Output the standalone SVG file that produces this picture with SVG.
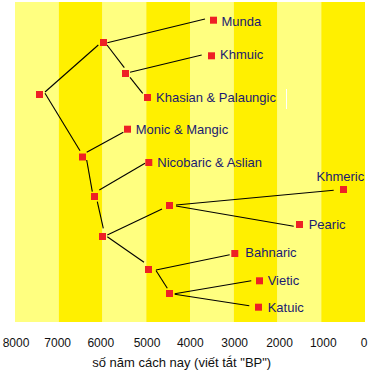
<svg xmlns="http://www.w3.org/2000/svg" width="372" height="374" viewBox="0 0 372 374">
<style>
.lt{fill:#FFFF80}
.dk{fill:#FFF000}
.nd{fill:#EE2025}
.lb{font-family:"Liberation Sans",Arial,sans-serif;font-size:13px;fill:#1a1a70}
.ax{font-family:"Liberation Sans",Arial,sans-serif;font-size:12px;fill:#111;text-anchor:middle}
.ttl{font-family:"Liberation Sans",Arial,sans-serif;font-size:13px;fill:#111;text-anchor:middle}
#connectors line{stroke:#000;stroke-width:1.1}
</style>
<rect width="372" height="374" fill="#fff"/>
<g id="background">
<rect class="lt" x="15" y="2" width="43.75" height="320"/>
<rect class="dk" x="58.75" y="2" width="43.75" height="320"/>
<rect class="lt" x="102.5" y="2" width="43.75" height="320"/>
<rect class="dk" x="146.25" y="2" width="43.75" height="320"/>
<rect class="lt" x="190" y="2" width="43.75" height="320"/>
<rect class="dk" x="233.75" y="2" width="43.75" height="320"/>
<rect class="lt" x="277.5" y="2" width="43.75" height="320"/>
<rect class="dk" x="321.25" y="2" width="43.75" height="320"/>
<line x1="286.5" y1="89" x2="286.5" y2="109" stroke="#fff" stroke-width="1"/>
</g>
<g id="connectors">
<line x1="45" y1="92" x2="98.3" y2="45"/>
<line x1="45" y1="93.3" x2="80" y2="150.7"/>
<line x1="107.3" y1="42.7" x2="205" y2="19"/>
<line x1="107" y1="45" x2="124.3" y2="67.7"/>
<line x1="130" y1="72.3" x2="201.7" y2="55"/>
<line x1="130" y1="77.3" x2="142.7" y2="93.3"/>
<line x1="86.7" y1="152.3" x2="123.3" y2="132.3"/>
<line x1="86.7" y1="160" x2="92.3" y2="191.7"/>
<line x1="99.3" y1="190" x2="145" y2="163.3"/>
<line x1="97.3" y1="201.7" x2="103.3" y2="228.3"/>
<line x1="107.3" y1="235" x2="162" y2="209"/>
<line x1="107.3" y1="236.7" x2="144" y2="262.3"/>
<line x1="176" y1="205" x2="333.7" y2="190.3"/>
<line x1="176" y1="206" x2="293.7" y2="226.3"/>
<line x1="156" y1="270" x2="229.7" y2="254.7"/>
<line x1="156" y1="270.5" x2="167.3" y2="288.3"/>
<line x1="174.7" y1="293.7" x2="251.3" y2="280.7"/>
<line x1="174.7" y1="294.3" x2="249.3" y2="305.7"/>
</g>
<g id="root"><rect class="nd" x="36" y="91" width="7" height="7"/></g>
<g id="n-a"><rect class="nd" x="100" y="39" width="7" height="7"/></g>
<g id="n-b"><rect class="nd" x="122" y="70" width="7" height="7"/></g>
<g id="n-c"><rect class="nd" x="79" y="153.5" width="7" height="7"/></g>
<g id="n-d"><rect class="nd" x="91" y="193" width="7" height="7"/></g>
<g id="n-e"><rect class="nd" x="99" y="233" width="7" height="7"/></g>
<g id="n-f"><rect class="nd" x="166" y="202" width="7" height="7"/></g>
<g id="n-g"><rect class="nd" x="145" y="266" width="7" height="7"/></g>
<g id="n-h"><rect class="nd" x="166" y="290" width="7" height="7"/></g>
<g id="munda"><rect class="nd" x="210" y="16.7" width="7" height="7"/><text class="lb" x="221.5" y="25.8">Munda</text></g>
<g id="khmuic"><rect class="nd" x="208" y="52.3" width="7" height="7"/><text class="lb" x="220" y="59.2">Khmuic</text></g>
<g id="khasian"><rect class="nd" x="144" y="94" width="7" height="7"/><text class="lb" x="156" y="102">Khasian &amp; Palaungic</text></g>
<g id="monic"><rect class="nd" x="124" y="125.7" width="7" height="7"/><text class="lb" x="135.7" y="134">Monic &amp; Mangic</text></g>
<g id="nicobaric"><rect class="nd" x="145.3" y="159" width="7" height="7"/><text class="lb" x="157.3" y="167">Nicobaric &amp; Aslian</text></g>
<g id="khmeric"><rect class="nd" x="340" y="186" width="7" height="7"/><text class="lb" x="316.5" y="181">Khmeric</text></g>
<g id="pearic"><rect class="nd" x="296" y="221" width="7" height="7"/><text class="lb" x="308.7" y="229.3">Pearic</text></g>
<g id="bahnaric"><rect class="nd" x="231.3" y="250" width="7" height="7"/><text class="lb" x="245.3" y="257">Bahnaric</text></g>
<g id="vietic"><rect class="nd" x="256" y="277.3" width="7" height="7"/><text class="lb" x="267.7" y="285">Vietic</text></g>
<g id="katuic"><rect class="nd" x="255" y="303.7" width="7" height="7"/><text class="lb" x="267.7" y="312">Katuic</text></g>
<g id="axis">
<text class="ax" x="16" y="346.5">8000</text>
<text class="ax" x="57.7" y="346.5">7000</text>
<text class="ax" x="100.8" y="346.5">6000</text>
<text class="ax" x="147" y="346.5">5000</text>
<text class="ax" x="190.3" y="346.5">4000</text>
<text class="ax" x="234.7" y="346.5">3000</text>
<text class="ax" x="279.5" y="346.5">2000</text>
<text class="ax" x="323.3" y="346.5">1000</text>
<text class="ax" x="364.2" y="346.5">0</text>
<text class="ttl" x="181.7" y="366.5">số năm cách nay (viết tắt "BP")</text>
</g>
</svg>
